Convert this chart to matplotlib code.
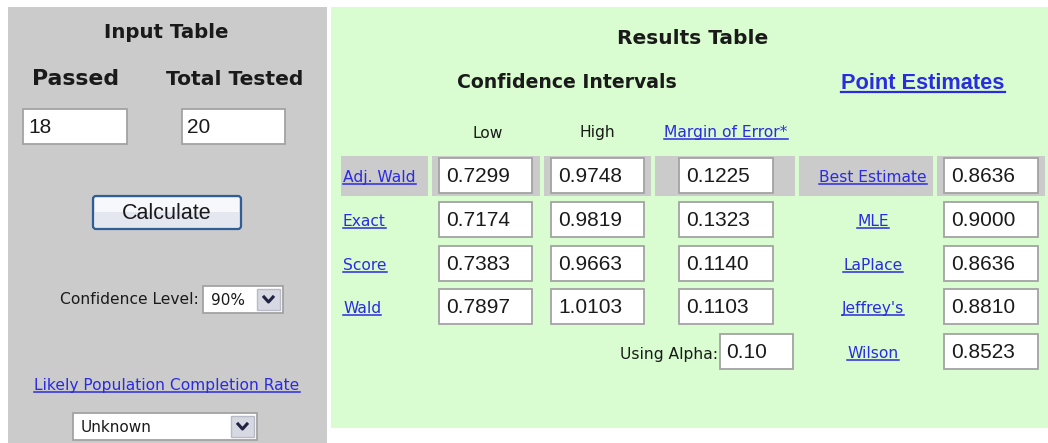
import matplotlib
matplotlib.use("Agg")
import matplotlib.pyplot as plt
from matplotlib.patches import Rectangle, FancyBboxPatch

# values from the form
passed = "18"
total_tested = "20"
conf_level = "90%"
population_rate = "Unknown"
alpha = "0.10"

methods = ["Adj. Wald", "Exact", "Score", "Wald"]
low = ["0.7299", "0.7174", "0.7383", "0.7897"]
high = ["0.9748", "0.9819", "0.9663", "1.0103"]
margin = ["0.1225", "0.1323", "0.1140", "0.1103"]

point_labels = ["Best Estimate", "MLE", "LaPlace", "Jeffrey's", "Wilson"]
point_values = ["0.8636", "0.9000", "0.8636", "0.8810", "0.8523"]

GRAY = "#cbcbcb"
GREEN = "#d9fcd0"
LINK = "#2b2be0"
TXT = "#1a1a1a"
ARIAL = "Liberation Sans"
SMALL = "DejaVu Sans"
HEAD = "DejaVu Sans"
SM = 11.2  # small text size

fig = plt.figure(figsize=(10.48, 4.43), dpi=100)
ax = fig.add_axes([0, 0, 1, 1])
ax.set_xlim(0, 1048)
ax.set_ylim(443, 0)
ax.axis("off")

links = []


def box(x0, y0, x1, y1, text=None, pad=7):
    ax.add_patch(Rectangle((x0, y0), x1 - x0, y1 - y0, facecolor="white",
                           edgecolor="#a3a3a3", lw=1.3, zorder=3))
    if text is not None:
        ax.text(x0 + pad, (y0 + y1) / 2 + 1, text, fontsize=15, family=ARIAL,
                color=TXT, va="center", ha="left", zorder=4)


def heading(x, y, s, size):
    ax.text(x, y, s, fontsize=size, fontweight="bold", family=HEAD,
            ha="center", va="center", color=TXT)


def link(x, y, s, size=SM, ha="left", bold=False, family=SMALL):
    # y is the baseline
    t = ax.text(x, y, s, fontsize=size, family=family, color=LINK, ha=ha,
                va="baseline", fontweight="bold" if bold else "normal", zorder=4)
    links.append((t, y, 2.6 if bold else 2.0))
    return t


def dropdown(x0, y0, x1, y1, text):
    box(x0, y0, x1, y1)
    ax.text(x0 + 8, (y0 + y1) / 2 + 1, text, fontsize=11, family=SMALL,
            color=TXT, va="center", zorder=4)
    bx0 = x1 - 26
    ax.add_patch(Rectangle((bx0, y0 + 3), 23, y1 - y0 - 6, facecolor="#d6d8e2",
                           edgecolor="#b8bac8", lw=1, zorder=4))
    cx, cy = bx0 + 11.5, (y0 + y1) / 2
    ax.plot([cx - 4.5, cx, cx + 4.5], [cy - 2.5, cy + 2.5, cy - 2.5],
            color="#222244", lw=2.2, zorder=5)


# panels
ax.add_patch(Rectangle((8, 7), 319, 436, facecolor=GRAY, edgecolor="none"))
ax.add_patch(Rectangle((331, 7), 717, 421, facecolor=GREEN, edgecolor="none"))

# ---- input table ----
heading(166, 32, "Input Table", 14.2)
heading(76, 79, "Passed", 15.8)
heading(235, 79, "Total Tested", 14.6)
box(23, 109, 127, 144, passed, pad=5)
box(182, 109, 285, 144, total_tested, pad=5)

ax.add_patch(FancyBboxPatch((93, 196), 148, 33, boxstyle="round,pad=0,rounding_size=3",
                            facecolor="#e4e6f0", edgecolor="#2f5e96", lw=1.6, zorder=3))
ax.add_patch(Rectangle((95, 198), 144, 14, facecolor="#f7f8fc", edgecolor="none", zorder=3))
ax.text(167, 213, "Calculate", fontsize=15.5, family=ARIAL, ha="center",
        va="center", color=TXT, zorder=4)

ax.text(199, 299, "Confidence Level:", fontsize=SM, family=SMALL, ha="right",
        va="center", color=TXT)
dropdown(203, 286, 283, 313, conf_level)

link(167, 390, "Likely Population Completion Rate", ha="center")
dropdown(73, 413, 257, 440, population_rate)

# ---- results table ----
heading(693, 38, "Results Table", 14.5)
heading(567, 82, "Confidence Intervals", 13.6)
link(923, 89, "Point Estimates", size=15.7, ha="center", bold=True, family=ARIAL)

ax.text(488, 133, "Low", fontsize=SM, family=SMALL, ha="center", va="center", color=TXT)
ax.text(597, 133, "High", fontsize=SM, family=SMALL, ha="center", va="center", color=TXT)
link(726, 137, "Margin of Error*", ha="center")

# gray strip behind first row
for gx0, gx1 in [(341, 428), (432, 540), (544, 651), (655, 795), (799, 933), (937, 1045)]:
    ax.add_patch(Rectangle((gx0, 156), gx1 - gx0, 40, facecolor=GRAY,
                           edgecolor="none", zorder=2))

row_y = [158, 202, 246, 289]
for i, m in enumerate(methods):
    y0 = row_y[i]
    link(343, y0 + 24, m)
    box(439, y0, 532, y0 + 35, low[i])
    box(551, y0, 644, y0 + 35, high[i])
    box(679, y0, 773, y0 + 35, margin[i])

ax.text(718, 355, "Using Alpha:", fontsize=SM, family=SMALL, ha="right",
        va="center", color=TXT)
box(720, 334, 793, 369, alpha, pad=6)

pe_y = [158, 202, 246, 289, 334]
for i, lab in enumerate(point_labels):
    y0 = pe_y[i]
    link(873, y0 + 24, lab, ha="center")
    box(944, y0, 1038, y0 + 35, point_values[i])

# underline the links
fig.canvas.draw()
r = fig.canvas.get_renderer()
inv = ax.transData.inverted()
for t, yb, off in links:
    bb = t.get_window_extent(r)
    (xa, _), (xb, _) = inv.transform([(bb.x0, bb.y0), (bb.x1, bb.y1)])
    ax.plot([xa, xb], [yb + off, yb + off], color=LINK,
            lw=1.6 if off > 2.2 else 1.1, zorder=4)

fig.savefig("out.png", dpi=100)
